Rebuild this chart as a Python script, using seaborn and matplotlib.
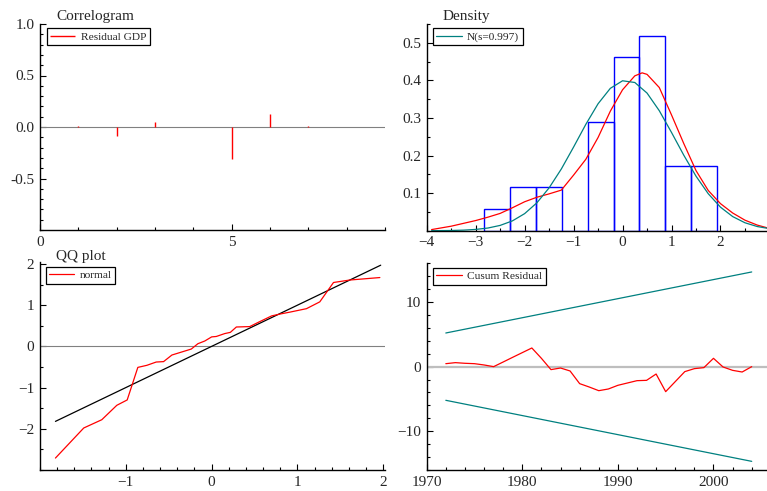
import matplotlib
matplotlib.use("Agg")
import matplotlib.pyplot as plt
from matplotlib.ticker import FixedLocator, MultipleLocator, FormatStrFormatter
import seaborn as sns

# Correlogram of the residuals
acf_lags = [1, 2, 3, 4, 5, 6, 7]
acf_vals = [0.013, -0.084, 0.052, -0.004, -0.306, 0.129, 0.010]

# Density panel: histogram bins, normal reference curve, kernel density
hist_edges = [-2.823, -2.295, -1.767, -1.239, -0.711, -0.183, 0.345, 0.873, 1.401, 1.929]
hist_dens = [0.058, 0.115, 0.115, 0.0, 0.289, 0.461, 0.519, 0.173, 0.173]
norm_x = [-3.9, -3.75, -3.5, -3.25, -3.0, -2.75, -2.5, -2.25, -2.0, -1.75, -1.5, -1.25,
          -1.0, -0.75, -0.5, -0.25, 0.0, 0.25, 0.5, 0.75, 1.0, 1.25, 1.5, 1.75, 2.0,
          2.25, 2.5, 2.75, 3.0]
norm_y = [0.0001, 0.0002, 0.0006, 0.0015, 0.0034, 0.0071, 0.0141, 0.0261, 0.0454, 0.0742,
          0.1140, 0.1643, 0.2226, 0.2830, 0.3378, 0.3788, 0.3989, 0.3944, 0.3662, 0.3193,
          0.2614, 0.2010, 0.1451, 0.0984, 0.0626, 0.0375, 0.0211, 0.0111, 0.0055]
kde_x = [-3.9, -3.5, -3.0, -2.75, -2.5, -2.25, -2.0, -1.75, -1.5, -1.25, -1.0, -0.75,
         -0.5, -0.25, 0.0, 0.25, 0.4, 0.5, 0.75, 1.0, 1.25, 1.5, 1.75, 2.0, 2.25, 2.5,
         2.75, 3.0]
kde_y = [0.003, 0.012, 0.027, 0.036, 0.046, 0.061, 0.077, 0.089, 0.098, 0.108, 0.148,
         0.190, 0.248, 0.318, 0.375, 0.412, 0.420, 0.416, 0.381, 0.308, 0.232, 0.160,
         0.107, 0.072, 0.047, 0.028, 0.015, 0.006]

# QQ plot
qq_x = [-1.82, -1.49, -1.28, -1.105, -0.984, -0.86, -0.755, -0.646, -0.56, -0.463,
        -0.354, -0.237, -0.16, -0.08, 0.0, 0.054, 0.152, 0.218, 0.288, 0.444, 0.56,
        0.70, 0.81, 0.91, 1.105, 1.26, 1.42, 1.61, 1.96]
qq_y = [-2.71, -1.98, -1.78, -1.43, -1.30, -0.51, -0.46, -0.38, -0.37, -0.21, -0.14,
        -0.065, 0.065, 0.13, 0.23, 0.24, 0.31, 0.34, 0.47, 0.48, 0.60, 0.74, 0.79,
        0.83, 0.915, 1.08, 1.55, 1.61, 1.67]
qq_ref = [-1.82, 1.97]

# Cusum of residuals with 5% bands
years = list(range(1972, 2005))
cusum = [0.46, 0.62, 0.52, 0.46, 0.26, 0.0, 0.72, 1.45, 2.17, 2.89, 1.29, -0.46, -0.21,
         -0.67, -2.63, -3.15, -3.72, -3.46, -2.89, -2.53, -2.17, -2.12, -1.14, -3.87,
         -2.32, -0.77, -0.31, -0.15, 1.29, -0.05, -0.57, -0.83, 0.0]
band_years = [1972, 2004]
band_upper = [5.21, 14.66]
band_lower = [-5.21, -14.66]

RED = "#ff0000"
TEAL = "#008080"
BLUE = "#0000ff"

sns.set_style("ticks")
plt.rcParams["font.family"] = ["Liberation Serif", "DejaVu Serif"]
plt.rcParams["xtick.direction"] = "in"
plt.rcParams["ytick.direction"] = "in"

W, H = 767, 491
fig = plt.figure(figsize=(W / 100, H / 100), dpi=100)


def px_axes(left, top, right, bottom):
    return fig.add_axes([left / W, 1 - bottom / H, (right - left) / W, (bottom - top) / H])


def style_axes(ax, xmaj, xmin, ymaj, ymin):
    for s in ["top", "right"]:
        ax.spines[s].set_visible(False)
    for s in ["left", "bottom"]:
        ax.spines[s].set_color("black")
        ax.spines[s].set_linewidth(1.0)
    ax.xaxis.set_major_locator(FixedLocator(xmaj))
    ax.yaxis.set_major_locator(FixedLocator(ymaj))
    ax.xaxis.set_minor_locator(MultipleLocator(xmin))
    ax.yaxis.set_minor_locator(MultipleLocator(ymin))
    ax.tick_params(which="major", length=4, width=0.8, labelsize=11, pad=4, color="black")
    ax.tick_params(which="minor", length=2, width=0.8, color="black")
    ax.set_xlabel("")
    ax.set_ylabel("")


def add_legend(ax, fx, fy):
    leg = ax.legend(loc="upper left", bbox_to_anchor=(fx, fy), borderaxespad=0,
                    frameon=True, fancybox=False, edgecolor="black", framealpha=1,
                    fontsize=8.2, handlelength=2.2, handletextpad=0.5, borderpad=0.3)
    leg.get_frame().set_linewidth(0.9)


# --- Correlogram
ax1 = px_axes(40, 24, 385, 230)
ax1.axhline(0, color="#808080", lw=0.8)
ax1.vlines(acf_lags, 0, acf_vals, color=RED, lw=1.0, label="Residual GDP")
ax1.set_xlim(0, 9)
ax1.set_ylim(-1, 1)
style_axes(ax1, [0, 5], 1, [-0.5, 0.0, 0.5, 1.0], 0.1)
ax1.yaxis.set_major_formatter(FormatStrFormatter("%.1f"))
add_legend(ax1, 0.019, 0.98)
fig.text(56 / W, 1 - 20 / H, "Correlogram", fontsize=11, va="baseline")

# --- Density
ax2 = px_axes(426.7, 24, 767, 230.7)
centers = [(a + b) / 2 for a, b in zip(hist_edges[:-1], hist_edges[1:])]
sns.histplot(x=centers, weights=hist_dens, bins=hist_edges, stat="count", fill=False,
             element="bars", color=BLUE, linewidth=1.0, ax=ax2)
sns.lineplot(x=kde_x, y=kde_y, color=RED, lw=0.9, ax=ax2)
sns.lineplot(x=norm_x, y=norm_y, color=TEAL, lw=0.9, label="N(s=0.997)", ax=ax2)
ax2.set_xlim(-4, 2.95)
ax2.set_ylim(0, 0.55)
style_axes(ax2, [-4, -3, -2, -1, 0, 1, 2], 0.5, [0.1, 0.2, 0.3, 0.4, 0.5], 0.05)
ax2.yaxis.set_major_formatter(FormatStrFormatter("%.1f"))
add_legend(ax2, 0.0186, 0.98)
fig.text(443 / W, 1 - 20 / H, "Density", fontsize=11, va="baseline")

# --- QQ plot
ax3 = px_axes(40, 262.3, 385, 470)
ax3.axhline(0, color="#808080", lw=0.8)
sns.lineplot(x=qq_ref, y=qq_ref, color="black", lw=0.9, ax=ax3)
sns.lineplot(x=qq_x, y=qq_y, color=RED, lw=0.9, label="normal", ax=ax3)
ax3.set_xlim(-2, 2.02)
ax3.set_ylim(-3, 2.04)
style_axes(ax3, [-1, 0, 1, 2], 0.2, [-2, -1, 0, 1, 2], 0.5)
add_legend(ax3, 0.017, 0.977)
fig.text(56 / W, 1 - 260 / H, "QQ plot", fontsize=11, va="baseline")

# --- Cusum
ax4 = px_axes(426.7, 263.3, 767, 470)
ax4.axhline(0, color="#bebebe", lw=1.6)
sns.lineplot(x=band_years, y=band_upper, color=TEAL, lw=0.9, ax=ax4)
sns.lineplot(x=band_years, y=band_lower, color=TEAL, lw=0.9, ax=ax4)
sns.lineplot(x=years, y=cusum, color=RED, lw=0.9, label="Cusum Residual", ax=ax4)
ax4.set_xlim(1970, 2005.6)
ax4.set_ylim(-16, 16)
style_axes(ax4, [1970, 1980, 1990, 2000], 2, [-10, 0, 10], 2)
add_legend(ax4, 0.0186, 0.977)

fig.savefig("out.png", dpi=100)
